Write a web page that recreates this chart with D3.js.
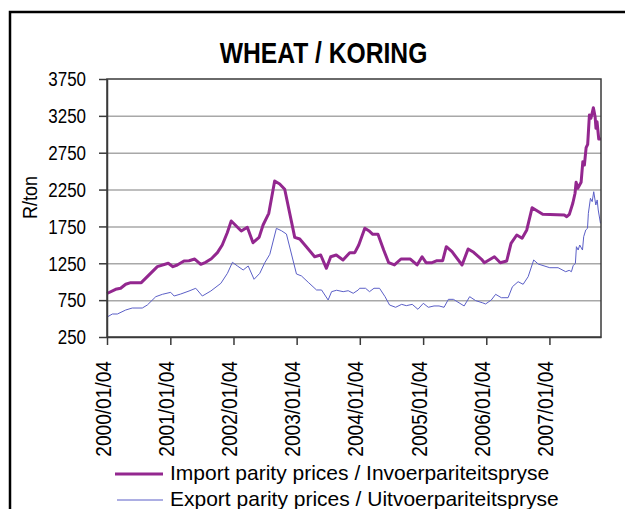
<!DOCTYPE html>
<html>
<head>
<meta charset="utf-8">
<script src="https://cdn.jsdelivr.net/npm/d3@7"></script>
<style>
  body { margin: 0; background: #fff; }
  #graf { width: 625px; height: 509px; }
  text { font-family: 'Liberation Sans', Arial, sans-serif; fill: #000; }
</style>
</head>
<body>
<div id="graf"></div>
<script>
// -- Datos
titulo = 'WHEAT / KORING'
tituloY = 'R/ton'
serieImport = 'Import parity prices / Invoerpariteitspryse'
serieExport = 'Export parity prices / Uitvoerpariteitspryse'

yTicks = [250, 750, 1250, 1750, 2250, 2750, 3250, 3750]
xTicks = ['2000-01-04', '2001-01-04', '2002-01-04', '2003-01-04',
          '2004-01-04', '2005-01-04', '2006-01-04', '2007-01-04']
xFin = '2007-10-29'

fechasImport = ['2000-01-04','2000-02-23','2000-03-23','2000-04-21','2000-05-20','2000-07-20','2000-10-21','2000-12-23',
  '2001-01-19','2001-02-13','2001-03-24','2001-04-22','2001-05-25','2001-06-29','2001-07-27','2001-08-29','2001-10-03',
  '2001-10-31','2001-11-29','2001-12-22','2002-02-18','2002-03-25','2002-04-27','2002-06-01','2002-06-24','2002-07-27',
  '2002-08-30','2002-09-28','2002-10-27','2002-12-24','2003-01-22','2003-03-01','2003-04-18','2003-05-23','2003-06-25',
  '2003-07-20','2003-08-21','2003-09-29','2003-11-07','2003-12-06','2003-12-29','2004-02-02','2004-02-25','2004-03-19',
  '2004-04-18','2004-05-21','2004-06-19','2004-07-22','2004-08-29','2004-10-22','2004-11-30','2004-12-29','2005-01-21',
  '2005-02-25','2005-03-25','2005-04-27','2005-05-18','2005-06-20','2005-08-17','2005-09-21','2005-10-23','2005-12-11',
  '2005-12-24','2006-02-20','2006-03-26','2006-05-02','2006-05-27','2006-06-29','2006-07-30','2006-08-26','2006-09-26',
  '2006-11-26','2007-03-31','2007-04-14','2007-04-29','2007-05-19','2007-06-01','2007-06-07','2007-06-17','2007-07-06',
  '2007-07-16','2007-07-25','2007-08-04','2007-08-13','2007-08-23','2007-09-01','2007-09-15','2007-09-25','2007-09-30',
  '2007-10-06','2007-10-16','2007-10-29']
valoresImport = [840, 897, 911, 965, 987, 987, 1204, 1250,
  1204, 1227, 1281, 1285, 1308, 1236, 1263, 1312, 1394,
  1498, 1665, 1824, 1688, 1738, 1529, 1602, 1769, 1928,
  2366, 2326, 2254, 1602, 1579, 1475, 1339, 1362, 1182,
  1339, 1362, 1295, 1394, 1394, 1498, 1725, 1692, 1643,
  1643, 1430, 1258, 1227, 1308, 1308, 1227, 1339, 1258,
  1258, 1285, 1285, 1475, 1407, 1227, 1444, 1399, 1295,
  1258, 1339, 1258, 1281, 1521, 1634, 1589, 1702, 2004,
  1914, 1905, 1882, 1914, 2064, 2200, 2349, 2267, 2349,
  2628, 2583, 2818, 2864, 3262, 3217, 3361, 3239, 3081,
  3171, 2936, 2936]

fechasExport = ['2000-01-04','2000-02-04','2000-03-04','2000-04-21','2000-05-29','2000-07-26','2000-08-24','2000-10-12',
  '2000-11-19','2001-01-06','2001-01-26','2001-03-05','2001-04-22','2001-05-31','2001-07-08','2001-08-26','2001-10-23',
  '2001-11-30','2001-12-29','2002-01-27','2002-03-01','2002-03-30','2002-05-03','2002-06-05','2002-07-04','2002-08-02',
  '2002-09-09','2002-10-08','2002-11-06','2003-01-03','2003-02-01','2003-03-12','2003-04-29','2003-05-28','2003-07-05',
  '2003-07-25','2003-08-23','2003-09-30','2003-10-29','2003-11-27','2003-12-26','2004-01-03','2004-02-06','2004-02-29',
  '2004-03-26','2004-04-27','2004-05-29','2004-06-24','2004-07-29','2004-09-02','2004-09-29','2004-11-02','2004-12-05',
  '2005-01-05','2005-02-03','2005-03-08','2005-04-06','2005-05-05','2005-05-30','2005-06-28','2005-08-29','2005-09-30',
  '2005-11-04','2005-12-12','2005-12-31','2006-02-02','2006-02-27','2006-04-01','2006-05-10','2006-06-04','2006-07-07',
  '2006-08-05','2006-09-03','2006-10-05','2006-10-31','2007-01-06','2007-02-23','2007-04-08','2007-04-28','2007-05-11',
  '2007-05-21','2007-06-03','2007-06-09','2007-06-19','2007-06-28','2007-07-14','2007-07-21','2007-08-02','2007-08-12',
  '2007-08-17','2007-08-29','2007-09-08','2007-09-17','2007-09-29','2007-10-07','2007-10-13','2007-10-26']
valoresExport = [520, 562, 562, 616, 643, 643, 684, 797,
  829, 856, 806, 833, 874, 911, 806, 874, 978,
  1114, 1263, 1213, 1159, 1213, 1033, 1114, 1258, 1372,
  1724, 1692, 1647, 1105, 1078, 992, 888, 888, 752,
  865, 884, 865, 878, 843, 888, 911, 911, 865,
  911, 911, 797, 684, 653, 693, 675, 693, 626,
  707, 653, 671, 671, 653, 761, 761, 671, 797,
  743, 715, 698, 752, 829, 783, 783, 932, 1000,
  965, 1068, 1295, 1240, 1190, 1190, 1136, 1154, 1136,
  1217, 1250, 1475, 1430, 1498, 1430, 1611, 1702, 1724,
  1928, 2131, 2086, 2221, 2041, 2109, 1973, 1792]

// -- Configuración del canvas
ancho_total = 625
alto_total = 509
margins = {top: 79, left: 107, right: 24, bottom: 172}
ancho = ancho_total - margins.left - margins.right
alto  = alto_total - margins.top - margins.bottom

colorImport = '#93278f'
colorExport = '#5b5fc7'
colorEje = '#3a3a3a'

svg = d3.select('#graf').append('svg')
        .attr('width', ancho_total)
        .attr('height', alto_total)

svg.append('rect')
    .attr('width', ancho_total)
    .attr('height', alto_total)
    .attr('fill', '#fff')

// -- Marco exterior (se sale por la derecha y por abajo)
svg.append('rect')
    .attr('x', 10)
    .attr('y', 12)
    .attr('width', 700)
    .attr('height', 600)
    .attr('fill', 'none')
    .attr('stroke', '#000')
    .attr('stroke-width', 2.5)

// -- Título
svg.append('text')
    .attr('transform', 'translate(323.5, 63) scale(0.85, 1)')
    .attr('text-anchor', 'middle')
    .attr('font-size', '29px')
    .attr('font-weight', 'bold')
    .text(titulo)

// -- Título del eje Y
svg.append('text')
    .attr('transform', 'translate(36.5, 197.5) rotate(-90) scale(0.88, 1)')
    .attr('text-anchor', 'middle')
    .attr('font-size', '20.5px')
    .text(tituloY)

g = svg.append('g')
        .attr('transform', `translate(${ margins.left }, ${ margins.top })`)

// -- Escaladores
parse = d3.timeParse('%Y-%m-%d')
x = d3.scaleTime()
      .domain([parse(xTicks[0]), parse(xFin)])
      .range([0, ancho])
y = d3.scaleLinear()
      .domain([yTicks[0], yTicks[yTicks.length - 1]])
      .range([alto, 0])

// -- Grid horizontal
yGrid = d3.axisLeft(y)
          .tickValues(yTicks.slice(1, -1))
          .tickFormat('')
          .tickSize(-ancho)
g.append('g')
    .call(yGrid)
    .call(s => s.select('.domain').remove())
    .selectAll('line')
      .attr('stroke', '#a8a8a8')
      .attr('stroke-width', 1.5)

// -- Series
linea = (fechas, valores) => d3.line()
    .x((d, i) => x(parse(fechas[i])))
    .y(d => y(d))(valores)

g.append('path')
    .attr('d', linea(fechasExport, valoresExport))
    .attr('fill', 'none')
    .attr('stroke', colorExport)
    .attr('stroke-width', 1)

g.append('path')
    .attr('d', linea(fechasImport, valoresImport))
    .attr('fill', 'none')
    .attr('stroke', colorImport)
    .attr('stroke-width', 3)
    .attr('stroke-linejoin', 'round')

// -- Marco del área de datos
g.append('rect')
    .attr('width', ancho)
    .attr('height', alto)
    .attr('fill', 'none')
    .attr('stroke', colorEje)
    .attr('stroke-width', 1.5)

// -- Ejes
yAxis = d3.axisLeft(y)
          .tickValues(yTicks)
          .tickSize(8)
          .tickSizeOuter(0)
          .tickFormat(d3.format('d'))
g.append('g')
    .call(yAxis)
    .call(s => s.selectAll('line, path').attr('stroke', colorEje).attr('stroke-width', 1.5))
    .selectAll('text')
      .attr('x', 0)
      .attr('dy', '0.35em')
      .attr('transform', 'translate(-21, 0) scale(0.87, 1)')
      .attr('font-size', '19.5px')
      .attr('font-family', null)

xAxis = d3.axisBottom(x)
          .tickValues(xTicks.map(parse))
          .tickSize(8)
          .tickSizeOuter(0)
          .tickFormat(d3.timeFormat('%Y/%m/%d'))
g.append('g')
    .attr('transform', `translate(0, ${ alto })`)
    .call(xAxis)
    .call(s => s.selectAll('line, path').attr('stroke', colorEje).attr('stroke-width', 1.5))
    .selectAll('text')
      .attr('x', 0)
      .attr('y', 0)
      .attr('dy', '0.35em')
      .attr('text-anchor', 'end')
      .attr('transform', 'translate(-4.5, 24) rotate(-90) scale(0.87, 1)')
      .attr('font-size', '22px')
      .attr('font-family', null)

// -- Leyenda
leyenda = [
  {nombre: serieImport, color: colorImport, grosor: 3, x1: 115, y: 474},
  {nombre: serieExport, color: colorExport, grosor: 1, x1: 117, y: 500}
]
leyenda.forEach(d => {
    svg.append('line')
        .attr('x1', d.x1)
        .attr('x2', 163)
        .attr('y1', d.y)
        .attr('y2', d.y)
        .attr('stroke', d.color)
        .attr('stroke-width', d.grosor)
    svg.append('text')
        .attr('x', 170)
        .attr('y', d.y + 5.5)
        .attr('font-size', '21px')
        .text(d.nombre)
})
</script>
</body>
</html>
